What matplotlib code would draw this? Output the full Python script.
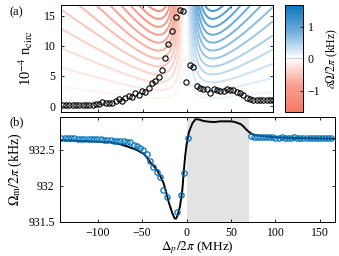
import numpy as np
import matplotlib
matplotlib.use("Agg")
import matplotlib.pyplot as plt
from matplotlib.colors import LinearSegmentedColormap, TwoSlopeNorm

plt.rcParams['font.family'] = ['Liberation Serif', 'DejaVu Serif']
plt.rcParams['mathtext.fontset'] = 'stix'
plt.rcParams['font.size'] = 8.5

# ---- panel (a): measured circulating photon number vs detuning
det_a = [-140.4, -136.7, -132.9, -129.2, -125.5, -121.7, -118.0, -114.3, -110.5, -106.7,
         -103.0, -99.2, -95.5, -91.8, -88.0, -84.3, -80.6, -76.7, -73.0, -69.3,
         -65.5, -61.8, -58.1, -54.3, -50.6, -46.9, -43.0, -39.3, -35.6, -31.8,
         -28.1, -24.4, -20.6, -16.1, -11.6, -7.9, -4.2, -0.3, 3.7, 7.5,
         11.6, 15.4, 19.1, 23.0, 27.0, 30.7, 34.5, 38.2, 41.9, 45.7,
         49.4, 53.1, 57.0, 60.7, 64.4, 68.2, 71.9, 75.6, 79.4, 83.1,
         86.9, 90.7, 94.4, 97.8]
ncirc = [0.15, 0.15, 0.2, 0.15, 0.2, 0.2, 0.2, 0.25, 0.25, 0.25,
         0.3, 0.3, 0.7, 0.55, 0.5, 0.45, 0.8, 1.1, 0.9, 1.3,
         1.6, 1.5, 2.1, 1.8, 2.5, 2.4, 3.0, 3.9, 4.1, 4.9,
         6.0, 8.0, 10.3, 12.5, 14.8, 15.9, 15.8, 4.0, 6.8, 6.5,
         3.3, 3.0, 2.8, 2.8, 2.1, 2.8, 2.6, 2.5, 2.5, 2.8,
         2.7, 2.6, 2.4, 2.2, 1.8, 1.4, 1.1, 1.0, 1.0, 1.0,
         1.0, 1.0, 1.0, 1.0]

# optical-spring model map parameters (MHz, kHz)
spring_gain = 4.6
half_width = 30.0
notch_width = 3.0
center = -1.0
levels = [-1.6, -1.5, -1.4, -1.3, -1.2, -1.1, -1.0, -0.9, -0.8, -0.7, -0.6, -0.5,
          -0.4, -0.3, -0.2, -0.1, 0.1, 0.2, 0.3, 0.4, 0.5, 0.6, 0.7, 0.8, 0.9,
          1.0, 1.1, 1.2, 1.3, 1.4, 1.5, 1.6]

# ---- panel (b): mechanical frequency
det_b = [-141, -137.3, -133.6, -129.9, -126.2, -122.5, -118.8, -115.1, -111.4, -107.7,
         -104, -100.3, -96.6, -92.9, -89.2, -85.5, -81.8, -78.1, -74.4, -70.7,
         -67, -63.3, -59.6, -55.9, -52.2, -48.5, -44.8, -41.1, -37.4, -33.7,
         -30, -26.3, -22.6, -10.5, -6.7, -2.6, 1.2,
         72.0, 75.5, 79.0, 82.5, 86.0, 89.5, 93.0, 96.5, 100.0, 103.5,
         107.0, 110.5, 114.0, 117.5, 121.0, 124.5, 128.0, 131.5, 135.0, 138.5,
         142.0, 145.5, 149.0, 152.5, 156.0, 159.5, 163.0]
omega_m = [932.66, 932.66, 932.66, 932.655, 932.655, 932.65, 932.65, 932.65, 932.645, 932.645,
           932.64, 932.64, 932.64, 932.635, 932.63, 932.63, 932.625, 932.62, 932.62, 932.615,
           932.61, 932.60, 932.57, 932.55, 932.52, 932.49, 932.44, 932.34, 932.26, 932.19,
           932.12, 931.94, 931.85, 931.64, 931.875, 932.17, 932.66,
           932.69, 932.68, 932.675, 932.675, 932.67, 932.67, 932.67, 932.67, 932.665, 932.665,
           932.67, 932.665, 932.665, 932.665, 932.67, 932.665, 932.665, 932.66, 932.665, 932.66,
           932.66, 932.66, 932.66, 932.66, 932.66, 932.655, 932.66]

det_fit = [-143, -120, -100, -85, -75, -66, -57, -48, -44, -40, -36, -33, -29, -26, -23.6,
           -20, -16, -13.5, -12, -10.5, -7.5, -4.8, -3, -1.5, 0, 2.6, 6.4, 10, 14, 19,
           25, 31, 38, 44, 49, 53, 57, 61, 64, 67, 70, 73, 76, 80, 87, 100, 120, 145, 167]
omega_fit = [932.63, 932.62, 932.61, 932.60, 932.575, 932.54, 932.50, 932.44, 932.38, 932.31,
             932.26, 932.21, 932.12, 932.04, 931.94, 931.77, 931.62, 931.55, 931.545, 931.58,
             931.71, 931.94, 932.22, 932.42, 932.57, 932.74, 932.86, 932.92, 932.915, 932.895,
             932.885, 932.88, 932.89, 932.89, 932.89, 932.885, 932.87, 932.85, 932.82, 932.78,
             932.745, 932.72, 932.705, 932.695, 932.685, 932.67, 932.66, 932.655, 932.65]
shade_span = (0, 70)

blue = '#0072BD'
cmap = LinearSegmentedColormap.from_list(
    'rb', [(0, '#F57A66'), (0.25, '#F8A090'), (0.5, '#FFFFFF'), (0.75, '#6FAEDB'), (1, '#0A74BA')])
norm = TwoSlopeNorm(vmin=-1.65, vcenter=0, vmax=1.7)

W, H = 339, 256
fig = plt.figure(figsize=(W / 100, H / 100), dpi=100)
ax1 = fig.add_axes([60.5 / W, 1 - 111.5 / H, (273 - 60.5) / W, (111.5 - 5) / H])
cax = fig.add_axes([285 / W, 1 - 111.5 / H, 18 / W, (111.5 - 5) / H])
ax2 = fig.add_axes([59.5 / W, 1 - 222 / H, (335 - 59.5) / W, (222 - 117) / H])

# contour map
dg = np.linspace(-143, 98, 900)
ng = np.linspace(-1, 17, 300)
D, N = np.meshgrid(dg, ng)
d = D - center
shift = spring_gain * N * d / (d ** 2 + half_width ** 2) * d ** 2 / (d ** 2 + notch_width ** 2)
ax1.contour(D, N, shift, levels=levels, cmap=cmap, norm=norm, linewidths=1.4)
ax1.plot(det_a, ncirc, 'o', mfc='none', mec='k', ms=3.8, mew=0.8)
ax1.set_xlim(-143, 98)
ax1.set_ylim(-0.9, 16.8)
ax1.set_xticks([-100, -50, 0, 50])
ax1.set_xticklabels([])
ax1.set_yticks([0, 5, 10, 15])
ax1.set_ylabel(r'10$^{-4}$ n$_{\rm circ}$', fontsize=10.5, labelpad=6)

sm = matplotlib.cm.ScalarMappable(norm=norm, cmap=cmap)
cb = fig.colorbar(sm, cax=cax)
cb.set_ticks([-1, 0, 1])
cb.ax.axhline(0, color='0.8', lw=0.8)
cb.ax.tick_params(direction='in', length=2.5, width=0.6, labelsize=8.5)
cb.outline.set_linewidth(0.7)
cb.set_label(r'$\delta\Omega/2\pi$ (kHz)', fontsize=8.5, labelpad=3)

# panel (b)
ax2.axvspan(*shade_span, color='#E3E3E3', lw=0)
ax2.plot(det_fit, omega_fit, '-', color='k', lw=1.4)
ax2.plot(det_b, omega_m, 'o', mfc='none', mec=blue, ms=3.8, mew=0.9)
ax2.set_xlim(-143, 167)
ax2.set_ylim(931.5, 932.95)
ax2.set_xticks([-100, -50, 0, 50, 100, 150])
ax2.set_yticks([931.5, 932, 932.5])
ax2.set_yticklabels(['931.5', '932', '932.5'])
ax2.set_xlabel(r'$\Delta_p/2\pi$ (MHz)', fontsize=9.5, labelpad=0)
ax2.set_ylabel(r'$\Omega_{\rm m}/2\pi$ (kHz)', fontsize=10, labelpad=3)

for ax in (ax1, ax2):
    ax.tick_params(direction='in', top=True, right=True, length=2.5, width=0.6, labelsize=8.5)
    for s in ax.spines.values():
        s.set_linewidth(0.7)

fig.text(10 / W, 1 - 12 / H, '(a)', fontsize=9, va='center')
fig.text(10 / W, 1 - 122 / H, '(b)', fontsize=9, va='center')

fig.savefig('out.png', dpi=100)
